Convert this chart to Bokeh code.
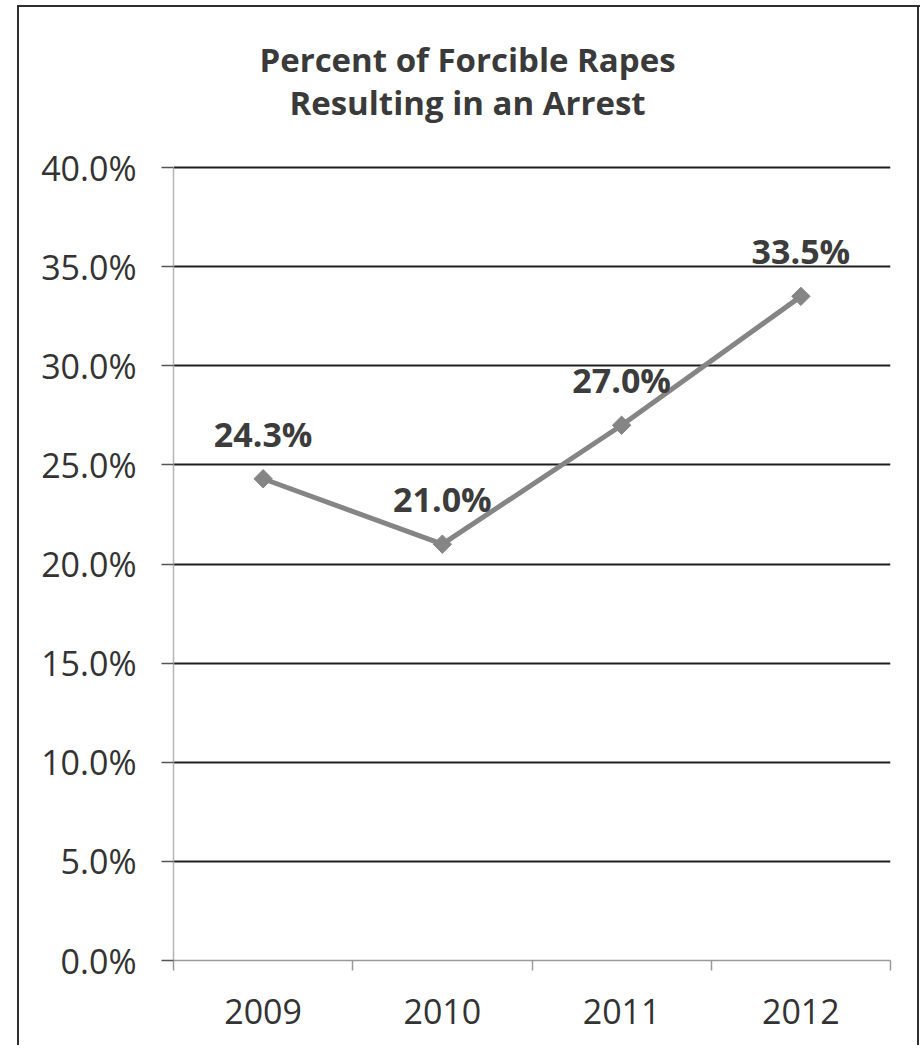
import math
from bokeh.plotting import figure
from bokeh.models import Range1d, FixedTicker, PrintfTickFormatter, ColumnDataSource
from bokeh.core.properties import value
from bokeh.embed import file_html
from bokeh.resources import INLINE

# ---- data ----
years = ["2009", "2010", "2011", "2012"]
arrest_pct = [24.3, 21.0, 27.0, 33.5]
y_ticks = [0, 5, 10, 15, 20, 25, 30, 35, 40]
title_lines = ["Percent of Forcible Rapes", "Resulting in an Arrest"]

FONT = "Open Sans"
W, H = 920, 1045
FRAME_L, FRAME_R, FRAME_T, FRAME_B = 173, 890, 10, 960
AXIS_TOP_PX = 167  # pixel row of the top tick value

# the frame extends above the value axis so the title can be centred over the chart
px_per_unit = (FRAME_B - AXIS_TOP_PX) / (y_ticks[-1] - y_ticks[0])
y_top = y_ticks[0] + (FRAME_B - FRAME_T) / px_per_unit
x_per_px = len(years) / (FRAME_R - FRAME_L)

x_pos = [i + 0.5 for i in range(len(years))]
labels = ["%.1f%%" % v for v in arrest_pct]
src = ColumnDataSource(dict(x=x_pos, y=arrest_pct, lab=labels))

p = figure(width=W, height=H, output_backend="svg", toolbar_location=None,
           x_range=Range1d(0, len(years)), y_range=Range1d(y_ticks[0], y_top),
           min_border_left=FRAME_L, min_border_right=W - FRAME_R,
           min_border_top=FRAME_T, min_border_bottom=H - FRAME_B,
           background_fill_color=None, border_fill_color=None)
p.outline_line_color = None
bc = "#2e2e2e"
p.styles = {
    "background": (
        f"linear-gradient({bc},{bc}) 17px 5px / 2px calc(100% - 5px) no-repeat, "
        f"linear-gradient({bc},{bc}) 17px 5px / calc(100% - 17px) 2px no-repeat, "
        f"linear-gradient({bc},{bc}) calc(100% - 1px) 5px / 2px calc(100% - 5px) no-repeat"
    ),
}

# x axis: labels at category centres, ticks at category boundaries
xa = p.xaxis[0]
xa.ticker = FixedTicker(ticks=x_pos, minor_ticks=list(range(len(years) + 1)))
xa.major_label_overrides = {x: y for x, y in zip(x_pos, years)}
xa.major_tick_line_color = None
xa.major_tick_out = 0
xa.major_tick_in = 0
xa.minor_tick_out = 10
xa.minor_tick_in = 0
xa.minor_tick_line_color = "#9a9a9a"
xa.minor_tick_line_width = 1.5
xa.axis_line_color = "#9a9a9a"
xa.axis_line_width = 1.5
xa.major_label_text_font = FONT
xa.major_label_text_font_size = "34px"
xa.major_label_text_color = "#333333"
xa.major_label_standoff = 28

ya = p.yaxis[0]
ya.bounds = (y_ticks[0], y_ticks[-1])
ya.ticker = FixedTicker(ticks=y_ticks, minor_ticks=[])
ya.formatter = PrintfTickFormatter(format="%.1f%%")
ya.major_tick_out = 12
ya.major_tick_in = 0
ya.major_tick_line_color = "#555555"
ya.major_tick_line_width = 1.5
ya.axis_line_color = "#b5b5b5"
ya.axis_line_width = 1.5
ya.major_label_text_font = FONT
ya.major_label_text_font_size = "34px"
ya.major_label_text_color = "#333333"
ya.major_label_standoff = 25

p.xgrid.grid_line_color = None
p.ygrid.ticker = FixedTicker(ticks=y_ticks[1:])
p.ygrid.grid_line_color = "#1e1e1e"
p.ygrid.grid_line_width = 2

p.line("x", "y", source=src, line_color="#858585", line_width=5)
p.scatter("x", "y", source=src, marker="square", angle=math.pi / 4, size=13,
          fill_color="#858585", line_color="#858585")
p.text("x", "y", text="lab", source=src, text_align="center", text_baseline="middle",
       y_offset=-45, text_font=value(FONT), text_font_style="bold",
       text_font_size="34px", text_color="#3c3c3c")

# title: two lines centred over the whole chart (pixel rows 59 and 102)
title_x = (467 - FRAME_L) * x_per_px
title_y = [y_ticks[0] + (FRAME_B - py) / px_per_unit for py in (59, 102)]
p.text(x=[title_x] * 2, y=title_y, text=title_lines, text_align="center",
       text_baseline="middle", text_font=value(FONT), text_font_style="bold",
       text_font_size="33px", text_color="#3a3a3a")

open("out.html", "w").write(file_html(p, INLINE))
